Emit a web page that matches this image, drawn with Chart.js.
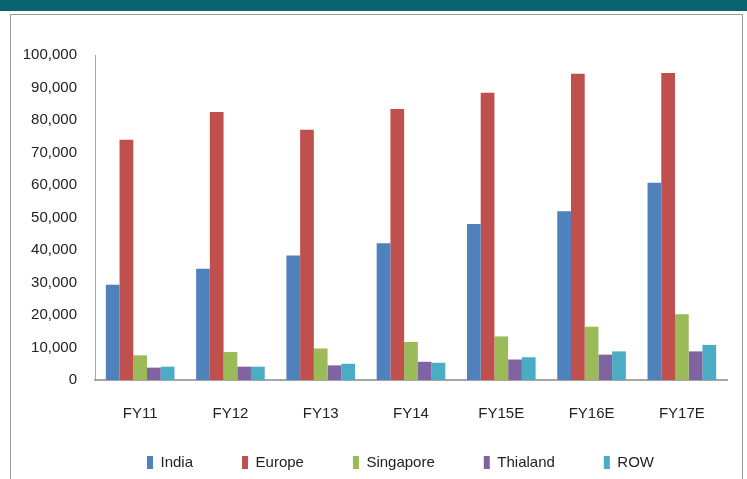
<!DOCTYPE html>
<html>
<head>
<meta charset="utf-8">
<script src="https://cdn.jsdelivr.net/npm/chart.js@4"></script>
<style>
  html, body { margin: 0; padding: 0; background: #fff; }
  body { width: 747px; height: 479px; position: relative; overflow: hidden; }
  .topbar { position: absolute; left: 0; top: 0; width: 747px; height: 11px; background: #07646e; }
  .frame { position: absolute; left: 10px; top: 14px; width: 733px; height: 480px; border: 1px solid #9a9a9a; box-sizing: border-box; }
  #wrap { position: absolute; left: 0; top: 0; width: 747px; height: 479px; }
</style>
</head>
<body>
<div class="topbar"></div>
<div class="frame"></div>
<div id="wrap"><canvas id="chart1"></canvas></div>
<script>
const years = ['FY11', 'FY12', 'FY13', 'FY14', 'FY15E', 'FY16E', 'FY17E'];
const india = [29300, 34200, 38300, 42100, 48000, 51900, 60700];
const europe = [73900, 82500, 77000, 83400, 88400, 94200, 94500];
const singapore = [7600, 8600, 9700, 11700, 13400, 16400, 20200];
const thailand = [3800, 4100, 4500, 5600, 6300, 7800, 8800];
const row = [4100, 4100, 5000, 5300, 7000, 8800, 10800];

const font = "'Liberation Sans', Arial, sans-serif";

function serie(label, data, color) {
    return {
        label,
        data,
        backgroundColor: color,
        borderWidth: 0,
        categoryPercentage: 0.76,
        barPercentage: 1.0
    };
}

// legend: fixed height, then top pulled up (bottom kept) and moved right
const legendBox = {
    id: 'legendBox',
    afterInit(chart) {
        const lg = chart.legend;
        const fit = lg.fit;
        lg.fit = function () {
            fit.call(this);
            this.height = 56;
        };
    },
    afterLayout(chart) {
        const lg = chart.legend;
        lg.left += 37;
        lg.right += 37;
        lg.top -= 17;
    }
};

const ctx = document.getElementById('chart1');
const myChart = new Chart(ctx, {
    type: 'bar',
    data: {
        labels: years,
        datasets: [
            serie('India', india, '#4f81bd'),
            serie('Europe', europe, '#c0504d'),
            serie('Singapore', singapore, '#9bbb59'),
            serie('Thialand', thailand, '#8064a2'),
            serie('ROW', row, '#4bacc6')
        ]
    },
    plugins: [legendBox],
    options: {
        responsive: true,
        maintainAspectRatio: false,
        animation: false,
        layout: { padding: { left: 0, right: 20, top: 55, bottom: 0 } },
        plugins: {
            tooltip: { enabled: false },
            legend: {
                position: 'bottom',
                labels: {
                    font: { family: font, size: 15 },
                    color: '#222',
                    boxWidth: 6,
                    boxHeight: 13,
                    padding: 49
                }
            }
        },
        scales: {
            x: {
                grid: { display: false, drawTicks: false },
                border: { color: '#a6a6a6', width: 2 },
                ticks: { font: { family: font, size: 15 }, color: '#222', padding: 25 },
                afterFit: (scale) => { scale.height = 43; }
            },
            y: {
                min: 0,
                max: 100000,
                grid: { display: false, drawTicks: false },
                border: { color: '#a6a6a6', width: 1 },
                ticks: {
                    stepSize: 10000,
                    font: { family: font, size: 15 },
                    color: '#222',
                    padding: 18,
                    callback: (v) => v.toLocaleString('en-US')
                },
                afterFit: (scale) => { scale.width = 95; }
            }
        }
    }
});
</script>
</body>
</html>
